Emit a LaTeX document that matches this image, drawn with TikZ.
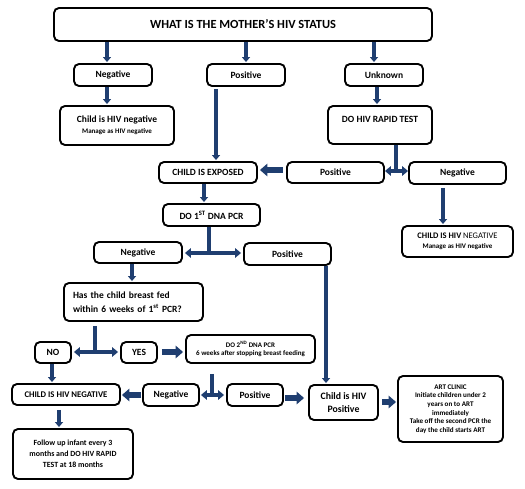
\documentclass[tikz,border=0pt]{standalone}
\usepackage{fontspec}
\setmainfont{Carlito}
\usetikzlibrary{arrows.meta}
\definecolor{arr}{RGB}{31,62,112}
\begin{document}
\begin{tikzpicture}[x=1pt,y=-1pt,
 box/.style={draw=black, line width=1.9pt, rounded corners=5pt, inner sep=0pt, align=center, fill=white,
   font=\bfseries\fontsize{9.5}{11}\selectfont},
 dn/.style={draw=arr, line width=3.2pt, -{Triangle[length=5pt,width=8pt]}},
 ln/.style={draw=arr, line width=3.2pt},
 dbl/.style={draw=arr, line width=3.2pt, {Triangle[length=6pt,width=9.5pt]}-{Triangle[length=6pt,width=9.5pt]}},
 blk/.style={draw=arr, line width=5.5pt, -{Triangle[length=7.5pt,width=12.5pt]}},
 small/.style={font=\bfseries\fontsize{7}{8.5}\selectfont},
]
\useasboundingbox (0,0) rectangle (525,489);

% nodes
\node[box, minimum width=378pt, minimum height=33pt, font=\bfseries\fontsize{12.4}{14}\selectfont] (top) at (243,24.5) {WHAT IS THE MOTHER’S HIV STATUS};
\node[box, minimum width=78pt, minimum height=22pt] (neg1) at (113,75) {Negative};
\node[box, minimum width=78pt, minimum height=22pt] (pos1) at (246,75) {Positive};
\node[box, minimum width=78pt, minimum height=22pt] (unk) at (384,75) {Unknown};
\node[box, minimum width=114pt, minimum height=39pt] (cneg1) at (117,125.5) {Child is HIV negative\\{\fontsize{7}{9}\selectfont Manage as HIV negative}};
\node[box, minimum width=104pt, minimum height=38pt, text depth=11pt] (rapid) at (380,125) {DO HIV RAPID TEST};
\node[box, minimum width=98pt, minimum height=21pt] (exposed) at (208,172.5) {CHILD IS EXPOSED};
\node[box, minimum width=97pt, minimum height=21pt] (pos2) at (335.5,172.5) {Positive};
\node[box, minimum width=97pt, minimum height=22pt] (neg2) at (457.5,173) {Negative};
\node[box, minimum width=111pt, minimum height=31pt, font=\fontsize{8.5}{10}\selectfont] (cneg2) at (457.5,241.5) {\textbf{CHILD IS HIV} NEGATIVE\\{\bfseries\fontsize{7}{9}\selectfont Manage as HIV negative}};
\node[box, minimum width=97pt, minimum height=22pt] (pcr1) at (211.5,215) {DO 1\textsuperscript{ST} DNA PCR};
\node[box, minimum width=88pt, minimum height=21pt] (neg3) at (138,252.5) {Negative};
\node[box, minimum width=87pt, minimum height=22pt] (pos3) at (287.5,254) {Positive};
\node[box, minimum width=139pt, minimum height=38pt, text width=121pt, align=left, font=\bfseries\fontsize{9.5}{14}\selectfont] (hasbf) at (133.5,302) {Has the child breast fed\\within 6 weeks of 1\textsuperscript{st} PCR?};
\node[box, minimum width=36pt, minimum height=21pt] (no) at (53,352.5) {NO};
\node[box, minimum width=36pt, minimum height=21pt] (yes) at (139,352.5) {YES};
\node[box, minimum width=129pt, minimum height=28pt, small] (do2) at (250.5,349) {DO 2\textsuperscript{ND} DNA PCR\\6 weeks after stopping breast feeding};
\node[box, minimum width=108pt, minimum height=21pt, font=\bfseries\fontsize{8.7}{10}\selectfont] (cneg3) at (66,394.5) {CHILD IS HIV NEGATIVE};
\node[box, minimum width=56pt, minimum height=22pt] (neg4) at (171,395) {Negative};
\node[box, minimum width=56pt, minimum height=22pt] (pos4) at (255,395) {Positive};
\node[box, minimum width=69pt, minimum height=35pt, font=\bfseries\fontsize{9.8}{12.3}\selectfont] (cpos) at (343.5,402.5) {Child is HIV\\Positive};
\node[box, minimum width=105pt, minimum height=66pt, font=\bfseries\fontsize{7.1}{8.7}\selectfont] (art) at (450.5,409) {ART CLINIC\\Initiate children under 2\\years on to ART\\immediately\\Take off the second PCR the\\day the child starts ART};
\node[box, minimum width=120pt, minimum height=50pt, font=\bfseries\fontsize{7.9}{11}\selectfont] (follow) at (73,454) {Follow up infant every 3\\months and DO HIV RAPID\\TEST at 18 months};

% junction coordinates
\coordinate (xa) at (107,0);
\coordinate (xb) at (246,0);
\coordinate (xc) at (374,0);
\coordinate (xd) at (216,0);
\coordinate (xe) at (377,0);
\coordinate (j1) at (396,171);
\coordinate (yb1) at (0,170);
\coordinate (xf) at (443,0);
\coordinate (xg) at (204,0);
\coordinate (j2) at (209,253);
\coordinate (xh) at (326,0);
\coordinate (xi) at (132,0);
\coordinate (j3) at (95,352);
\coordinate (xj) at (52,0);
\coordinate (j4) at (212,395);
\coordinate (yb2) at (0,398);
\coordinate (yb3) at (0,402);
\coordinate (xk) at (59,0);

% connectors
\draw[dn, shorten >=1pt] (top.south -| xa) -- (neg1.north -| xa);
\draw[dn, shorten >=1pt] (top.south -| xb) -- (pos1.north -| xb);
\draw[dn, shorten >=1pt] (top.south -| xc) -- (unk.north -| xc);
\draw[dn, shorten >=1pt] (neg1.south -| xa) -- (cneg1.north -| xa);
\draw[dn, shorten <=2pt, shorten >=1pt] (pos1.south -| xd) -- (exposed.north -| xd);
\draw[dn, shorten >=1pt] (unk.south -| xe) -- (rapid.north -| xe);
\draw[ln] (rapid.south -| j1) -- (j1);
\draw[dbl] (pos2.east |- j1) -- (neg2.west |- j1);
\draw[blk, shorten <=3pt, shorten >=2pt] (pos2.west |- yb1) -- (exposed.east |- yb1);
\draw[dn, shorten <=3pt, shorten >=1pt] (neg2.south -| xf) -- (cneg2.north -| xf);
\draw[dn, shorten >=1pt] (exposed.south -| xg) -- (pcr1.north -| xg);
\draw[ln] (pcr1.south -| j2) -- (j2);
\draw[dbl, shorten <=2pt, shorten >=2pt] (neg3.east |- j2) -- (pos3.west |- j2);
\draw[dn, shorten >=1pt] (pos3.south -| xh) -- (cpos.north -| xh);
\draw[dn, shorten >=1pt] (neg3.south -| xi) -- (hasbf.north -| xi);
\draw[ln, shorten <=4pt] (hasbf.south -| j3) -- (j3);
\draw[dbl, shorten <=2pt, shorten >=2pt] (no.east |- j3) -- (yes.west |- j3);
\draw[blk, shorten <=4pt, shorten >=2pt] (yes.east |- j3) -- (do2.west |- j3);
\draw[dn, shorten >=1pt] (no.south -| xj) -- (cneg3.north -| xj);
\draw[blk, shorten <=1pt, shorten >=1pt] (neg4.west) -- (cneg3.east |- neg4.west);
\draw[ln, shorten <=10pt] (do2.south -| j4) -- (j4);
\draw[dbl, shorten <=1pt, shorten >=2pt] (neg4.east |- j4) -- (pos4.west |- j4);
\draw[blk, shorten <=1pt, shorten >=4pt] (pos4.east |- yb2) -- (cpos.west |- yb2);
\draw[blk, shorten <=3pt, shorten >=1pt] (cpos.east |- yb3) -- (art.west |- yb3);
\draw[dn, shorten <=4pt, shorten >=1pt] (cneg3.south -| xk) -- (follow.north -| xk);
\end{tikzpicture}
\end{document}
